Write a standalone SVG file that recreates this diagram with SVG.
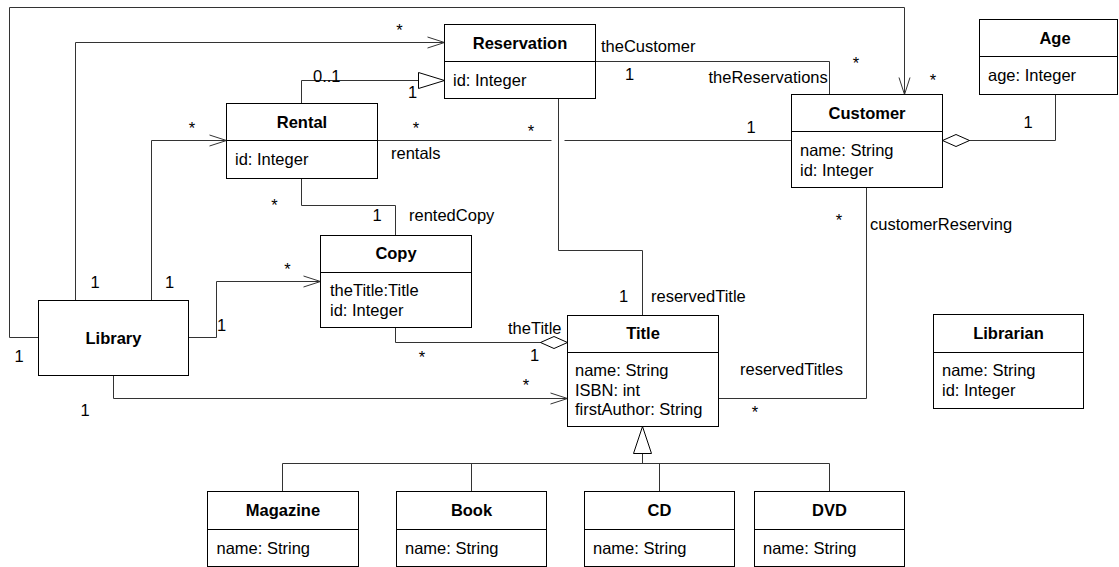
<svg xmlns="http://www.w3.org/2000/svg" width="1119" height="567" viewBox="0 0 1119 567">
<style>
.box{fill:#fff;stroke:#000;stroke-width:1}
.div{stroke:#000;stroke-width:1}
.c{fill:none;stroke:#333;stroke-width:1}
text{font-family:"Liberation Sans",Arial,Helvetica,sans-serif;font-size:16.5px;fill:#000}
.h{font-weight:bold;text-anchor:middle}
.m{text-anchor:middle}
</style>
<defs>
<marker id="open" markerUnits="userSpaceOnUse" markerWidth="20" markerHeight="14" refX="17" refY="6" orient="auto" overflow="visible">
<path d="M0,0.5 L17,6 L0,11.5" fill="none" stroke="#333" stroke-width="1"/>
</marker>
<marker id="tri" markerUnits="userSpaceOnUse" markerWidth="28" markerHeight="18" refX="26" refY="8" orient="auto" overflow="visible">
<path d="M0,0 L26,8 L0,16 Z" fill="#fff" stroke="#000" stroke-width="1"/>
</marker>
<marker id="gen" markerUnits="userSpaceOnUse" markerWidth="28" markerHeight="20" refX="27" refY="9" orient="auto" overflow="visible">
<path d="M0,0 L27,9 L0,18 Z" fill="#fff" stroke="#000" stroke-width="1"/>
</marker>
<marker id="dia" markerUnits="userSpaceOnUse" markerWidth="28" markerHeight="14" refX="27" refY="6" orient="auto" overflow="visible">
<path d="M0,6 L13.5,0 L27,6 L13.5,12 Z" fill="#fff" stroke="#000" stroke-width="1"/>
</marker>
</defs>
<rect width="1119" height="567" fill="#fff"/>

<g id="connectors">
<path class="c" d="M38.5,337.5 H9.5 V7.5 H904.5 V94.5" marker-end="url(#open)"/>
<path class="c" d="M75.5,300.5 V42.5 H444.5" marker-end="url(#open)"/>
<path class="c" d="M151.5,300.5 V140.5 H226.5" marker-end="url(#open)"/>
<path class="c" d="M188.5,337.5 H216.5 V281.5 H320.5" marker-end="url(#open)"/>
<path class="c" d="M113.5,375.5 V398.5 H567.5" marker-end="url(#open)"/>
<path class="c" d="M301.5,103.5 V80.5 H444.5" marker-end="url(#tri)"/>
<path class="c" d="M377.5,140.5 H551.5 M564.5,140.5 H791.5"/>
<path class="c" d="M595.5,61.5 H829.5 V94.5"/>
<path class="c" d="M1055.5,94.5 V140.5 H942.5" marker-end="url(#dia)"/>
<path class="c" d="M301.5,178.5 V205.5 H395.5 V235.5"/>
<path class="c" d="M558.5,98.5 V250.5 H642.5 V315.5"/>
<path class="c" d="M395.5,327.5 V342.5 H567.5" marker-end="url(#dia)"/>
<path class="c" d="M866.5,187.5 V398.5 H718.5"/>
<path class="c" d="M642.5,463.5 V426.5" marker-end="url(#gen)"/>
<path class="c" d="M282.5,491.5 V463.5 H829.5 V491.5 M471.5,463.5 V491.5 M659.5,463.5 V491.5"/>
</g>

<g id="labels">
<text class="m" x="19" y="361.6">1</text>
<text class="m" x="856" y="68.6">*</text>
<text class="m" x="933" y="85.6">*</text>
<text class="m" x="95" y="287.6">1</text>
<text class="m" x="399.5" y="35.6">*</text>
<text class="m" x="169.5" y="287.6">1</text>
<text class="m" x="192" y="133.6">*</text>
<text class="m" x="221.5" y="331">1</text>
<text class="m" x="287.5" y="274.6">*</text>
<text class="m" x="85" y="416">1</text>
<text class="m" x="526" y="391.3">*</text>
<text x="313" y="81.5">0..1</text>
<text class="m" x="412.5" y="97.6">1</text>
<text class="m" x="416" y="133.6">*</text>
<text x="391" y="159.3">rentals</text>
<text class="m" x="531" y="136.6">*</text>
<text class="m" x="751" y="133.2">1</text>
<text x="601" y="51.7">theCustomer</text>
<text class="m" x="629.5" y="80.2">1</text>
<text x="708.5" y="83.3">theReservations</text>
<text class="m" x="1028" y="127.6">1</text>
<text class="m" x="274.5" y="211.3">*</text>
<text class="m" x="377" y="221">1</text>
<text x="409" y="221">rentedCopy</text>
<text class="m" x="623.5" y="302">1</text>
<text x="651" y="301.7">reservedTitle</text>
<text x="508" y="334">theTitle</text>
<text class="m" x="422" y="362.6">*</text>
<text class="m" x="534.5" y="361">1</text>
<text class="m" x="839" y="226.3">*</text>
<text x="870" y="230">customerReserving</text>
<text x="740" y="375">reservedTitles</text>
<text class="m" x="755" y="417.6">*</text>
</g>

<g id="Reservation">
<rect class="box" x="444.5" y="24.5" width="151" height="74"/>
<line class="div" x1="444.5" y1="61.5" x2="595.5" y2="61.5"/>
<text class="h" x="520" y="48.5">Reservation</text>
<text x="453" y="85.8">id: Integer</text>
</g>

<g id="Rental">
<rect class="box" x="226.5" y="103.5" width="151" height="75"/>
<line class="div" x1="226.5" y1="140.5" x2="377.5" y2="140.5"/>
<text class="h" x="302" y="128">Rental</text>
<text x="235" y="165">id: Integer</text>
</g>

<g id="Customer">
<rect class="box" x="791.5" y="94.5" width="151" height="93"/>
<line class="div" x1="791.5" y1="131.5" x2="942.5" y2="131.5"/>
<text class="h" x="867" y="119">Customer</text>
<text x="800" y="156">name: String</text>
<text x="800" y="176">id: Integer</text>
</g>

<g id="Age">
<rect class="box" x="979.5" y="19.5" width="138" height="75"/>
<line class="div" x1="979.5" y1="56.5" x2="1117.5" y2="56.5"/>
<text class="h" x="1055" y="43.5">Age</text>
<text x="988" y="81">age: Integer</text>
</g>

<g id="Copy">
<rect class="box" x="320.5" y="235.5" width="151" height="92"/>
<line class="div" x1="320.5" y1="272.5" x2="471.5" y2="272.5"/>
<text class="h" x="396" y="259">Copy</text>
<text x="330" y="296">theTitle:Title</text>
<text x="330" y="316">id: Integer</text>
</g>

<g id="Library">
<rect class="box" x="38.5" y="300.5" width="150" height="75"/>
<text class="h" x="113.5" y="344">Library</text>
</g>

<g id="Title">
<rect class="box" x="567.5" y="315.5" width="151" height="111"/>
<line class="div" x1="567.5" y1="352.5" x2="718.5" y2="352.5"/>
<text class="h" x="643" y="338.5">Title</text>
<text x="575" y="376">name: String</text>
<text x="575" y="396">ISBN: int</text>
<text x="575" y="415">firstAuthor: String</text>
</g>

<g id="Librarian">
<rect class="box" x="933.5" y="314.5" width="150" height="94"/>
<line class="div" x1="933.5" y1="352.5" x2="1083.5" y2="352.5"/>
<text class="h" x="1008.5" y="338.5">Librarian</text>
<text x="942" y="376">name: String</text>
<text x="942" y="396">id: Integer</text>
</g>

<g id="Magazine">
<rect class="box" x="207.5" y="491.5" width="151" height="75"/>
<line class="div" x1="207.5" y1="529.5" x2="358.5" y2="529.5"/>
<text class="h" x="283" y="516">Magazine</text>
<text x="216.5" y="554">name: String</text>
</g>

<g id="Book">
<rect class="box" x="396.5" y="491.5" width="150" height="75"/>
<line class="div" x1="396.5" y1="529.5" x2="546.5" y2="529.5"/>
<text class="h" x="471.5" y="516">Book</text>
<text x="405" y="554">name: String</text>
</g>

<g id="CD">
<rect class="box" x="584.5" y="491.5" width="150" height="75"/>
<line class="div" x1="584.5" y1="529.5" x2="734.5" y2="529.5"/>
<text class="h" x="659.5" y="516">CD</text>
<text x="593" y="554">name: String</text>
</g>

<g id="DVD">
<rect class="box" x="754.5" y="491.5" width="150" height="75"/>
<line class="div" x1="754.5" y1="529.5" x2="904.5" y2="529.5"/>
<text class="h" x="829.5" y="516">DVD</text>
<text x="763" y="554">name: String</text>
</g>
</svg>
